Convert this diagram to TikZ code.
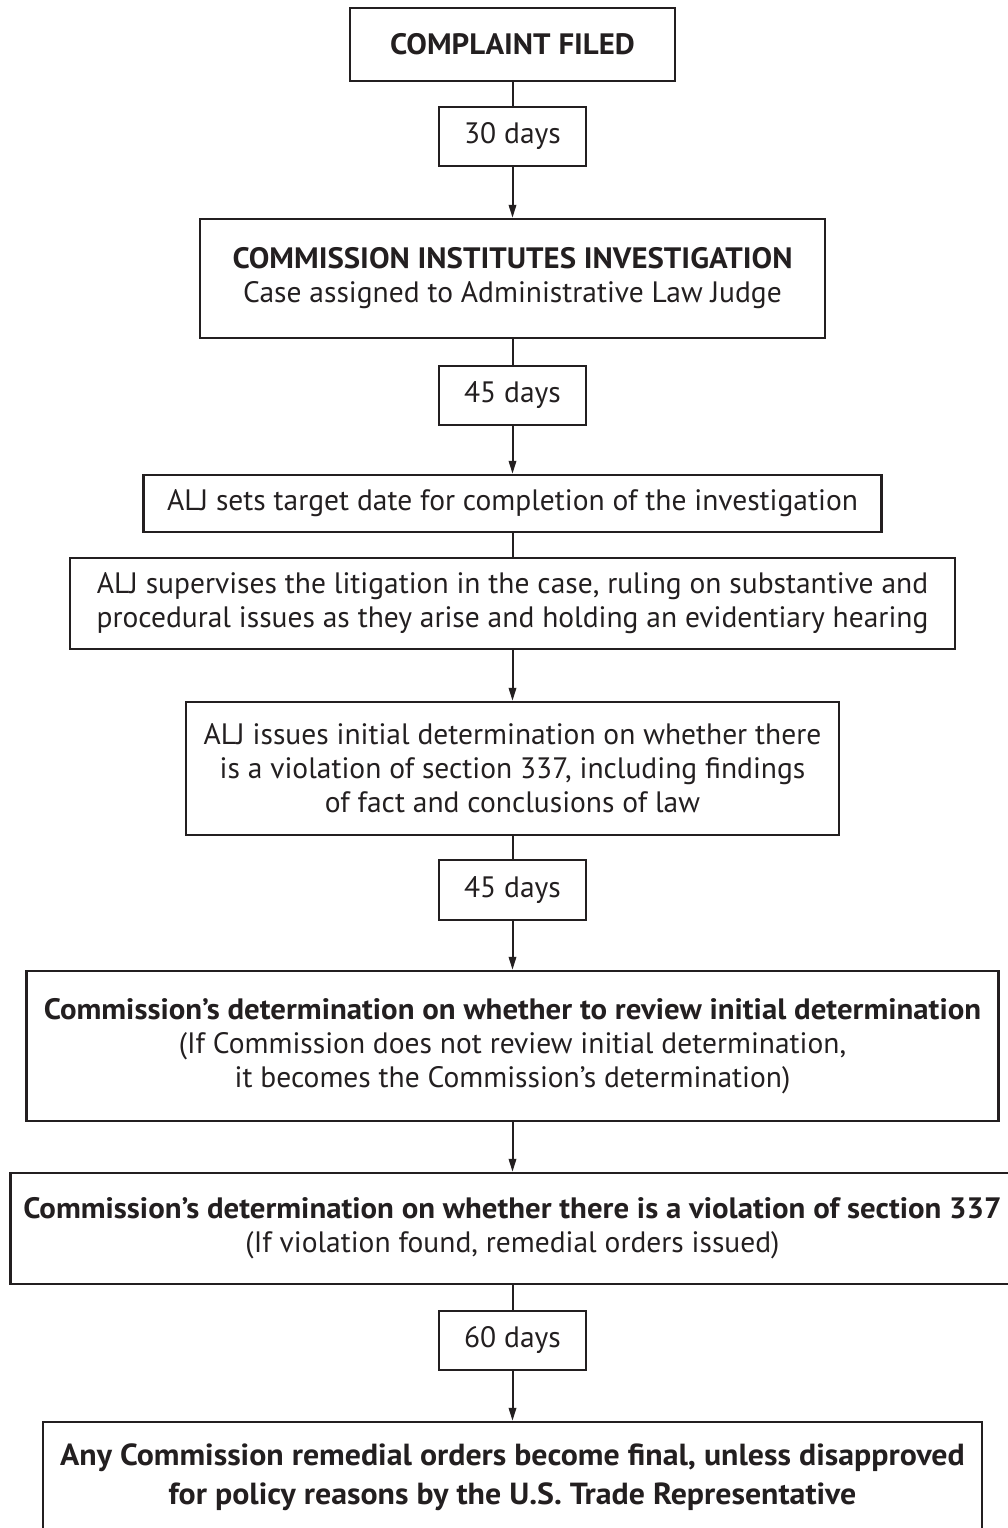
\documentclass[tikz,border=0pt]{standalone}
\usepackage{fontspec}
\setmainfont{PT Sans}[BoldFeatures={FakeStretch=1.045}]
\usetikzlibrary{arrows.meta}
\definecolor{ink}{RGB}{35,31,32}
\begin{document}
\begin{tikzpicture}[x=1pt,y=-1pt,
  box/.style={draw=ink, line width=2.5pt, text=ink, align=center, inner sep=0pt,
    font=\fontsize{29.5}{34}\selectfont},
  conn/.style={draw=ink, line width=2pt},
  arr/.style={conn, -{Triangle[length=13pt,width=7.5pt]}},
]
\useasboundingbox (0,0) rectangle (1008,1528);
\clip (0,0) rectangle (1008,1528);

\node[box, minimum width=325pt, minimum height=73pt] (filed) at (512.5,44.5) {\bfseries COMPLAINT FILED};
\node[box, minimum width=147pt, minimum height=59pt] (d30) at (512.5,136.5) {30 days};
\node[box, minimum width=625pt, minimum height=119pt] (inst) at (512.5,278.5)
  {\textbf{COMMISSION INSTITUTES INVESTIGATION}\\Case assigned to Administrative Law Judge};
\node[box, minimum width=147pt, minimum height=59pt] (d45a) at (512.5,395.5) {45 days};
\node[box, minimum width=738pt, minimum height=57pt] (target) at (512.5,503.5)
  {ALJ sets target date for completion of the investigation};
\node[box, minimum width=885pt, minimum height=91pt] (superv) at (512.5,603.5)
  {ALJ supervises the litigation in the case, ruling on substantive and\\procedural issues as they arise and holding an evidentiary hearing};
\node[box, minimum width=653pt, minimum height=133pt] (initial) at (512.5,768.5)
  {ALJ issues initial determination on whether there\\is a violation of section 337, including findings\\of fact and conclusions of law};
\node[box, minimum width=147pt, minimum height=60pt] (d45b) at (512.5,890) {45 days};
\node[box, minimum width=972pt, minimum height=150pt] (review) at (512.5,1046)
  {\textbf{Commission’s determination on whether to review initial determination}\\(If Commission does not review initial determination,\\it becomes the Commission’s determination)};
\node[box, minimum width=1004pt, minimum height=111pt] (viol) at (512.5,1228.5)
  {\textbf{Commission’s determination on whether there is a violation of section 337}\\(If violation found, remedial orders issued)};
\node[box, minimum width=147pt, minimum height=59pt] (d60) at (512.5,1340.5) {60 days};
\node[box, minimum width=939pt, minimum height=111pt, font=\fontsize{30.5}{39}\selectfont\bfseries] (final) at (512.5,1477.5)
  {Any Commission remedial orders become final, unless disapproved\\for policy reasons by the U.S. Trade Representative};

\draw[conn] (filed) -- (d30);
\draw[arr] (d30) -- (inst);
\draw[conn] (inst) -- (d45a);
\draw[arr] (d45a) -- (target);
\draw[conn] (target) -- (superv);
\draw[arr] (superv) -- (initial);
\draw[conn] (initial) -- (d45b);
\draw[arr] (d45b) -- (review);
\draw[arr] (review) -- (viol);
\draw[conn] (viol) -- (d60);
\draw[arr] (d60) -- (final);
\end{tikzpicture}
\end{document}
